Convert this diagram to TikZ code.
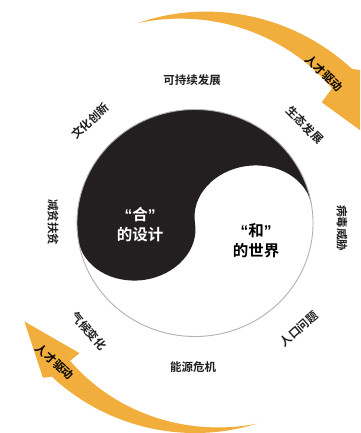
\documentclass[tikz,border=0pt]{standalone}
\usepackage{fontspec}
\setmainfont{Noto Sans CJK SC}[BoldFont={Noto Sans CJK SC Bold}]
\newfontfamily\quotefont{Liberation Sans}[BoldFont={Liberation Sans Bold}]
\definecolor{yinblack}{HTML}{231F20}
\definecolor{arroworange}{HTML}{F1AE3D}
\definecolor{labelink}{HTML}{231F20}
\tikzset{
  ringlabel/.style={font=\bfseries\fontsize{11.5}{12}\selectfont, text=labelink, inner sep=0pt},
  centerlabel/.style={font=\bfseries\fontsize{15.5}{20}\selectfont, align=center, inner sep=0pt},
  arrowlabel/.style={font=\bfseries\fontsize{11.5}{12}\selectfont, text=black, inner sep=0pt},
}
\newcommand{\myLq}{{\quotefont\bfseries “}}
\newcommand{\myRq}{{\quotefont\bfseries ”}}
\begin{document}
\begin{tikzpicture}[x=1pt,y=1pt]
\path[use as bounding box] (0,0) rectangle (360,-433);
\clip (0,0) rectangle (360,-433);
\fill[white] (0,0) rectangle (360,-433);
% arrows
\begin{scope}[shift={(195,-223)}]
  \fill[arroworange] plot[domain=106:44.5, samples=40] (\x:{208+12*(106-\x)/61.5})
    -- (42.5:226) -- (20.7:206) -- (43.6:175) -- (44.5:192)
    -- plot[domain=44.5:106, samples=40] (\x:{208-16*(106-\x)/61.5}) -- cycle;
  \fill[arroworange] (287:210) arc[start angle=287, end angle=227, radius=210]
    -- (225.5:217) -- (210:197) -- (228.4:174) -- (227.8:186)
    -- plot[domain=227.8:287, samples=40] (\x:{210-24*(287-\x)/59.2}) -- cycle;
\end{scope}
% yin-yang
\begin{scope}[shift={(195,-223)}, xscale=1.04]
 \begin{scope}[rotate=8.5]
  \fill[white] (0,0) circle (113.5);
  \fill[yinblack] (113.5,0) arc[start angle=0,end angle=180,radius=113.5]
     arc[start angle=180,end angle=360,x radius=56.75,y radius=49]
     arc[start angle=180,end angle=0,x radius=56.75,y radius=49] -- cycle;
  \draw[black!30, line width=0.9] (0,0) circle (113.5);
 \end{scope}
\end{scope}
% center labels
\node[centerlabel, text=white] (he) at (140,-225) {\myLq 合\myRq\\的设计};
\node[centerlabel, text=black] (hw) at (256,-241) {\myLq 和\myRq\\的世界};
% ring labels
\node[ringlabel] (l1) at (192,-80) {可持续发展};
\node[ringlabel, rotate=-45] (l2) at (305,-125) {生态发展};
\node[ringlabel, rotate=-90] (l3) at (342,-228) {病毒威胁};
\node[ringlabel, rotate=41] (l4) at (299,-329) {人口问题};
\node[ringlabel] (l5) at (193,-367) {能源危机};
\node[ringlabel, rotate=-50] (l6) at (89,-331) {气候变化};
\node[ringlabel, rotate=-90] (l7) at (53,-222) {减贫扶贫};
\node[ringlabel, rotate=43] (l8) at (90,-121) {文化创新};
% arrow labels
\node[arrowlabel, rotate=-43] (a1) at (324,-73) {人才驱动};
\node[arrowlabel, rotate=-42] (a2) at (55,-362) {人才驱动};
\end{tikzpicture}
\end{document}
